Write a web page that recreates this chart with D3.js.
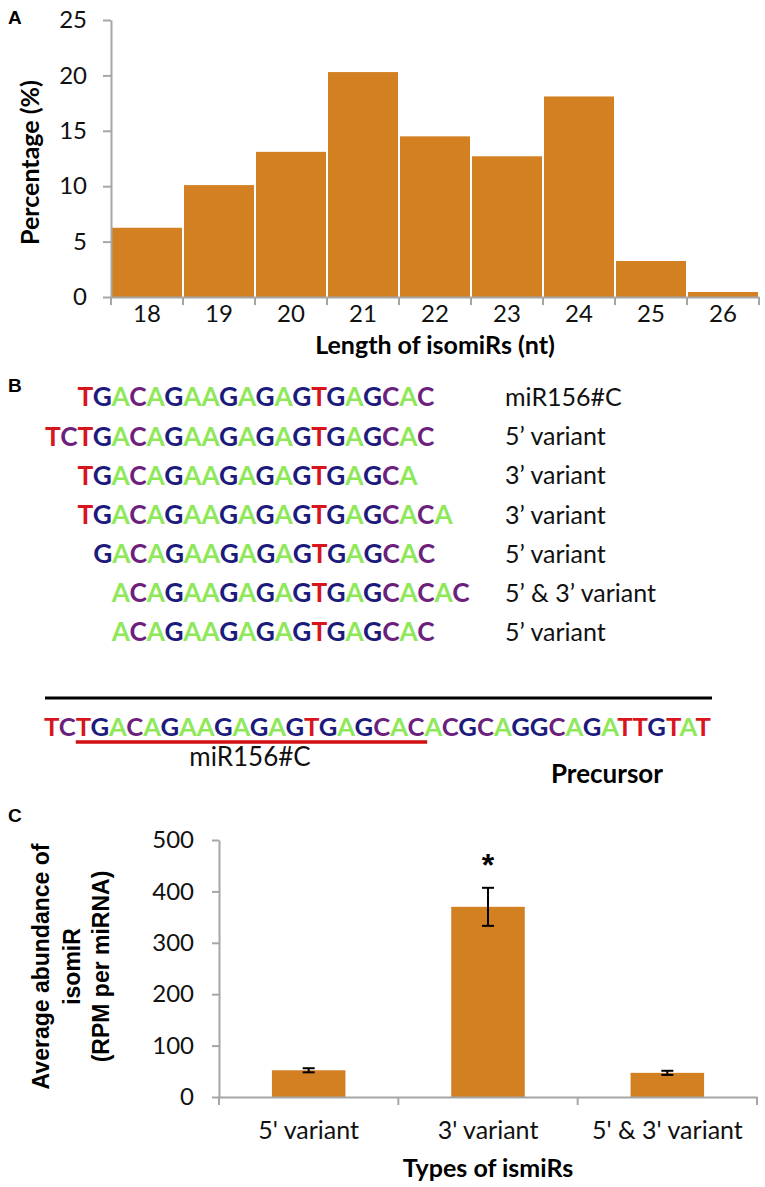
<!DOCTYPE html>
<html><head><meta charset="utf-8">
<script src="https://cdn.jsdelivr.net/npm/d3@7"></script>
<style>body{margin:0;background:#fff}svg{display:block}</style>
</head><body>
<svg id="c" width="765" height="1187"></svg>
<script>
// ---------- data ----------
const lengthCats = ["18","19","20","21","22","23","24","25","26"];
const lengthPct = [6.25, 10.1, 13.1, 20.3, 14.5, 12.7, 18.1, 3.25, 0.45];
const pctTicks = [0,5,10,15,20,25];

const precursor = "TCTGACAGAAGAGAGTGAGCACACGCAGGCAGATTGTAT";
const seqRows = ["TGACAGAAGAGAGTGAGCAC","TCTGACAGAAGAGAGTGAGCAC","TGACAGAAGAGAGTGAGCA","TGACAGAAGAGAGTGAGCACA","GACAGAAGAGAGTGAGCAC","ACAGAAGAGAGTGAGCACAC","ACAGAAGAGAGTGAGCAC"];
const seqOffsets = [2,0,2,2,3,4,4];
const seqLabels = ["miR156#C","5\u2019 variant","3\u2019 variant","3\u2019 variant","5\u2019 variant","5\u2019 & 3\u2019 variant","5\u2019 variant"];
const matureStart = 2, matureEnd = 22;

const typeCats = ["5' variant","3' variant","5' & 3' variant"];
const typeMeans = [52, 370, 47];
const typeErr = [4, 37, 4];
const abundTicks = [0,100,200,300,400,500];

const ntColor = {T:"#d8141c", G:"#1c1a7c", A:"#8fe85a", C:"#6c1f7c"};
const barColor = "#d28022";
const axisColor = "#a6a6a6";
const FONT = "Lato, 'Open Sans', sans-serif";

const svg = d3.select("#c");

// ---------- Panel A ----------
const A = {l:111, r:759, t:20, b:297};
const xA = d3.scaleBand().domain(lengthCats).range([A.l, A.r]).padding(0);
const yA = d3.scaleLinear().domain([0,25]).range([A.b, A.t]);

svg.append("text").attr("x",8).attr("y",24).text("A")
  .attr("font-family","Liberation Sans, Arial").attr("font-weight","bold").attr("font-size",19);

svg.append("g").selectAll("rect").data(lengthPct).join("rect")
  .attr("x",(d,i)=>xA(lengthCats[i])+1).attr("width",xA.bandwidth()-2)
  .attr("y",d=>yA(d)).attr("height",d=>yA(0)-yA(d)).attr("fill",barColor);

const gyA = svg.append("g").attr("transform",`translate(${A.l},0)`)
  .call(d3.axisLeft(yA).tickValues(pctTicks).tickSize(8).tickPadding(16).tickSizeOuter(0));
const gxA = svg.append("g").attr("transform",`translate(0,${A.b})`)
  .call(d3.axisBottom(xA).tickSize(0).tickPadding(8));
svg.append("g").selectAll("line").data(d3.range(lengthCats.length+1)).join("line")
  .attr("x1",i=>A.l+i*xA.step()).attr("x2",i=>A.l+i*xA.step())
  .attr("y1",A.b).attr("y2",A.b+8).attr("stroke",axisColor).attr("stroke-width",2);
[gyA,gxA].forEach(g=>{
  g.selectAll("path,line").attr("stroke",axisColor).attr("stroke-width",2);
  g.selectAll("text").attr("font-family",FONT).attr("font-size",24).attr("fill","#111");
});
svg.append("text").attr("transform",`translate(39,${(A.t+A.b)/2+4}) rotate(-90)`)
  .attr("text-anchor","middle").attr("font-family",FONT).attr("font-weight","bold").attr("font-size",25)
  .text("Percentage (%)");
svg.append("text").attr("x",(A.l+A.r)/2).attr("y",A.b+57).attr("text-anchor","middle")
  .attr("font-family",FONT).attr("font-weight","bold").attr("font-size",25)
  .text("Length of isomiRs (nt)");

// ---------- Panel B ----------
svg.append("text").attr("x",8).attr("y",392).text("B")
  .attr("font-family","Liberation Sans, Arial").attr("font-weight","bold").attr("font-size",19);

function measure(str, size){
  const t = svg.append("text").attr("font-family",FONT).attr("font-weight","bold").attr("font-size",size).text(str);
  const w = t.node().getComputedTextLength(); t.remove(); return w;
}
const topSize = 100 * 357 / measure(seqRows[0],100);
const preSize = 100 * 667 / measure(precursor,100);
const topX0 = 45, preX0 = 44;
const rowY = d3.scaleLinear().domain([0,6]).range([397,632]);

function drawSeq(str, x, yCenter, size){
  const t = svg.append("text").attr("x",x).attr("y",yCenter + size*0.36)
    .attr("font-family",FONT).attr("font-weight","bold").attr("font-size",size);
  str.split("").forEach(ch=>t.append("tspan").attr("fill",ntColor[ch]).text(ch));
  return t;
}
seqRows.forEach((s,i)=>{
  const x = topX0 + (seqOffsets[i] ? measure(precursor.slice(0,seqOffsets[i]), topSize) : 0);
  drawSeq(s, x, rowY(i), topSize);
  svg.append("text").attr("x",505).attr("y",rowY(i)+9).attr("font-family",FONT)
    .attr("font-size",25).attr("fill","#111").text(seqLabels[i]);
});
svg.append("line").attr("x1",45).attr("x2",712).attr("y1",698).attr("y2",698)
  .attr("stroke","#000").attr("stroke-width",3);
drawSeq(precursor, preX0, 727, preSize);
const uX1 = preX0 + measure(precursor.slice(0,matureStart), preSize);
const uX2 = preX0 + measure(precursor.slice(0,matureEnd), preSize);
svg.append("line").attr("x1",uX1).attr("x2",uX2+3).attr("y1",742).attr("y2",742)
  .attr("stroke","#d01010").attr("stroke-width",3.5);
svg.append("text").attr("x",(uX1+uX2)/2).attr("y",766).attr("text-anchor","middle")
  .attr("font-family",FONT).attr("font-size",26).attr("fill","#111").text("miR156#C");
svg.append("text").attr("x",607).attr("y",783).attr("text-anchor","middle")
  .attr("font-family",FONT).attr("font-weight","bold").attr("font-size",26).attr("fill","#000").text("Precursor");

// ---------- Panel C ----------
svg.append("text").attr("x",8).attr("y",822).text("C")
  .attr("font-family","Liberation Sans, Arial").attr("font-weight","bold").attr("font-size",19);
const C = {l:219, r:757, t:840, b:1097};
const xC = d3.scaleBand().domain(typeCats).range([C.l, C.r]).paddingInner(0.59).paddingOuter(0.295);
const xCs = d3.scaleBand().domain(typeCats).range([C.l, C.r]);
const yC = d3.scaleLinear().domain([0,500]).range([C.b, C.t]);

svg.append("g").selectAll("rect").data(typeMeans).join("rect")
  .attr("x",(d,i)=>xC(typeCats[i])).attr("width",xC.bandwidth())
  .attr("y",d=>yC(d)).attr("height",d=>yC(0)-yC(d)).attr("fill",barColor);

const gyC = svg.append("g").attr("transform",`translate(${C.l},0)`)
  .call(d3.axisLeft(yC).tickValues(abundTicks).tickSize(7).tickPadding(18).tickSizeOuter(0));
const gxC = svg.append("g").attr("transform",`translate(0,${C.b})`)
  .call(d3.axisBottom(xCs).tickSize(0).tickPadding(24));
svg.append("g").selectAll("line").data(d3.range(typeCats.length+1)).join("line")
  .attr("x1",i=>C.l+i*xCs.step()).attr("x2",i=>C.l+i*xCs.step())
  .attr("y1",C.b).attr("y2",C.b+8).attr("stroke",axisColor).attr("stroke-width",2);
[gyC,gxC].forEach(g=>{
  g.selectAll("path,line").attr("stroke",axisColor).attr("stroke-width",2);
  g.selectAll("text").attr("font-family",FONT).attr("font-size",24).attr("fill","#111");
});
gxC.selectAll("text").attr("font-size",25);
const eb = svg.append("g").attr("stroke","#000").attr("stroke-width",2);
typeMeans.forEach((m,i)=>{
  const cx = xC(typeCats[i]) + xC.bandwidth()/2;
  eb.append("line").attr("x1",cx).attr("x2",cx).attr("y1",yC(m+typeErr[i])).attr("y2",yC(m-typeErr[i]));
  [m+typeErr[i], m-typeErr[i]].forEach(v=>eb.append("line").attr("x1",cx-6).attr("x2",cx+6).attr("y1",yC(v)).attr("y2",yC(v)));
});
svg.append("text").attr("x",xC(typeCats[1])+xC.bandwidth()/2).attr("y",yC(typeMeans[1]+typeErr[1])-12)
  .attr("text-anchor","middle").attr("font-family","Liberation Sans, Arial").attr("font-weight","bold")
  .attr("font-size",32).text("*");

const ytC = svg.append("text").attr("transform",`translate(0,${(C.t+C.b)/2-2}) rotate(-90)`)
  .attr("text-anchor","middle").attr("font-family","Liberation Sans, Arial").attr("font-weight","bold").attr("font-size",23);
[["Average abundance of",49],["isomiR",80],["(RPM per miRNA)",109]].forEach(([s,x])=>
  ytC.append("tspan").attr("x",0).attr("y",x).text(s));
svg.append("text").attr("x",488).attr("y",1177).attr("text-anchor","middle")
  .attr("font-family",FONT).attr("font-weight","bold").attr("font-size",25).text("Types of ismiRs");
</script>
</body></html>
